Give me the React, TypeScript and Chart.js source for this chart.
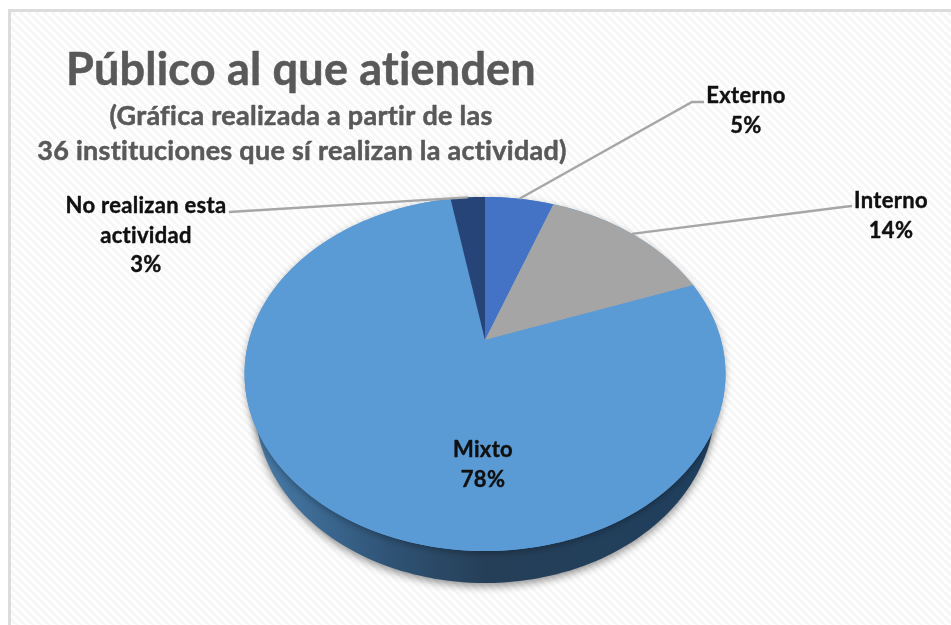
import React, { useEffect, useRef } from "react";
import { Chart, registerables } from "chart.js";

Chart.register(...registerables);

const categories = ["Externo", "Interno", "Mixto", "No realizan esta actividad"];
const institutions = [2, 5, 28, 1];
const percentLabels = ["5%", "14%", "78%", "3%"];
const sliceColors = ["#4472c4", "#a5a5a5", "#5b9bd5", "#264478"];
const titleText = "Público al que atienden";
const subtitleLines = ["(Gráfica realizada a partir de las", "36 instituciones que sí realizan la actividad)"];

const labelLines: string[][] = [
  ["Externo", percentLabels[0]],
  ["Interno", percentLabels[1]],
  ["Mixto", percentLabels[2]],
  ["No realizan esta", "actividad", percentLabels[3]],
];
const labelAt = [
  { x: 746, y: 103 },
  { x: 891, y: 208 },
  { x: 483, y: 457 },
  { x: 146, y: 213 },
];
const leaderBends: (number[][] | null)[] = [
  [[692, 102], [704, 102]],
  [[843, 207], [852, 206]],
  null,
  [[229, 212]],
];

const STRETCH_X = 236 / 170.5;
const PERSPECTIVE = -0.192;
const DEPTH = 32;
const BASE_SHRINK = 0.955;

function project(arc: any, angle: number, r = arc.outerRadius) {
  const dx = Math.cos(angle) * r;
  const dy = Math.sin(angle) * r;
  const w = 1 + (PERSPECTIVE * dy) / arc.outerRadius;
  return { x: arc.x + (STRETCH_X * dx) / w, y: arc.y + dy / w };
}

const pageBackground = {
  id: "pageBackground",
  beforeDraw(chart: any) {
    const { ctx, width, height } = chart;
    ctx.save();
    ctx.fillStyle = "#ffffff";
    ctx.fillRect(0, 0, width, height);
    const tile = document.createElement("canvas");
    tile.width = 8;
    tile.height = 8;
    const t = tile.getContext("2d")!;
    t.fillStyle = "#ffffff";
    t.fillRect(0, 0, 8, 8);
    t.strokeStyle = "#f6f6f6";
    t.lineWidth = 3;
    for (let o = -8; o <= 8; o += 8) {
      t.beginPath();
      t.moveTo(o, 0);
      t.lineTo(o + 8, 8);
      t.stroke();
    }
    ctx.fillStyle = ctx.createPattern(tile, "repeat");
    ctx.fillRect(8, 10, width - 8, height - 10);
    ctx.fillStyle = "#dcdcdc";
    ctx.fillRect(8, 9, width - 8, 3);
    ctx.fillRect(8, 9, 3, height - 9);
    ctx.restore();
  },
};

const perspectivePie = {
  id: "perspectivePie",
  beforeDatasetDraw(chart: any, args: any) {
    const { ctx } = chart;
    const arcs = args.meta.data;
    const first = arcs[0];
    const steps = 240;

    const rim: { x: number; y: number }[] = [];
    for (let i = 0; i <= steps; i++) rim.push(project(first, (i / steps) * Math.PI * 2));
    const left = Math.min(...rim.map((p) => p.x));
    const right = Math.max(...rim.map((p) => p.x));

    const tracePath = (pts: { x: number; y: number }[]) => {
      ctx.beginPath();
      pts.forEach((p, i) => (i ? ctx.lineTo(p.x, p.y) : ctx.moveTo(p.x, p.y)));
      ctx.closePath();
    };

    // base disc: only its lower part stays visible, as the side wall
    ctx.save();
    const base = rim.map((p) => ({ x: first.x + (p.x - first.x) * BASE_SHRINK, y: p.y + DEPTH }));
    const grad = ctx.createLinearGradient(left, 0, right, 0);
    grad.addColorStop(0, "#4a7dab");
    grad.addColorStop(0.12, "#3f6e98");
    grad.addColorStop(0.3, "#2f5375");
    grad.addColorStop(0.5, "#263f58");
    grad.addColorStop(0.75, "#223f5b");
    grad.addColorStop(1, "#1f3f5e");
    tracePath(base);
    ctx.shadowColor = "rgba(0,0,0,0.45)";
    ctx.shadowBlur = 9;
    ctx.shadowOffsetY = 3;
    ctx.fillStyle = grad;
    ctx.fill();

    // soft shadow of the top disc on the page
    tracePath(rim);
    ctx.shadowColor = "rgba(0,0,0,0.3)";
    ctx.shadowBlur = 7;
    ctx.shadowOffsetY = 2;
    ctx.fillStyle = sliceColors[2];
    ctx.fill();
    ctx.restore();

    // top surface, one path per chart.js arc element
    arcs.forEach((arc: any, i: number) => {
      const n = Math.max(2, Math.ceil((arc.circumference / (Math.PI * 2)) * steps));
      const pts = [project(arc, 0, 0)];
      for (let s = 0; s <= n; s++) pts.push(project(arc, arc.startAngle + (s / n) * arc.circumference));
      tracePath(pts);
      ctx.fillStyle = sliceColors[i];
      ctx.fill();
    });
    return false;
  },
};

const annotations = {
  id: "annotations",
  afterDraw(chart: any) {
    const { ctx } = chart;
    const arcs = chart.getDatasetMeta(0).data;
    ctx.save();

    // leader lines
    ctx.strokeStyle = "#a6a6a6";
    ctx.lineWidth = 2.4;
    arcs.forEach((arc: any, i: number) => {
      const bends = leaderBends[i];
      if (!bends) return;
      const a = project(arc, arc.startAngle + arc.circumference / 2);
      ctx.beginPath();
      ctx.moveTo(a.x, a.y);
      bends.forEach(([x, y]) => ctx.lineTo(x, y));
      ctx.stroke();
    });

    ctx.textAlign = "center";
    ctx.textBaseline = "alphabetic";
    ctx.lineJoin = "round";
    ctx.filter = "blur(0.5px)";

    // title
    ctx.fillStyle = "#595959";
    ctx.strokeStyle = "#595959";
    ctx.lineWidth = 0.5;
    ctx.font = "bold 45px Lato";
    ctx.letterSpacing = "0.2px";
    ctx.fillText(titleText, 301, 85);
    ctx.strokeText(titleText, 301, 85);
    ctx.font = "bold 27px Lato";
    ctx.letterSpacing = "0.27px";
    subtitleLines.forEach((line, i) => {
      ctx.fillText(line, 301 + i, 125 + i * 35);
      ctx.strokeText(line, 301 + i, 125 + i * 35);
    });

    // data labels
    ctx.fillStyle = "#101010";
    ctx.strokeStyle = "#101010";
    ctx.lineWidth = 0.4;
    ctx.font = "bold 22px Lato";
    ctx.letterSpacing = "0.3px";
    labelLines.forEach((lines, i) => {
      lines.forEach((line, j) => {
        ctx.fillText(line, labelAt[i].x, labelAt[i].y + j * 29.5);
        ctx.strokeText(line, labelAt[i].x, labelAt[i].y + j * 29.5);
      });
    });
    ctx.restore();
  },
};

export default function App() {
  const ref = useRef<HTMLCanvasElement>(null);
  useEffect(() => {
    const chart = new Chart(ref.current!, {
      type: "pie",
      data: {
        labels: categories,
        datasets: [{ data: institutions, backgroundColor: sliceColors, borderWidth: 0 }],
      },
      options: {
        responsive: false,
        animation: false,
        rotation: 0,
        layout: { padding: { left: 314.5, right: 295.5, top: 169.5, bottom: 114.5 } },
        plugins: { legend: { display: false }, tooltip: { enabled: false }, title: { display: false } },
      },
      plugins: [pageBackground, perspectivePie, annotations],
    });
    return () => chart.destroy();
  }, []);
  return (
    <canvas
      ref={ref}
      width={951}
      height={625}
      style={{ position: "fixed", left: 0, top: 0, width: 951, height: 625, display: "block" }}
    />
  );
}
